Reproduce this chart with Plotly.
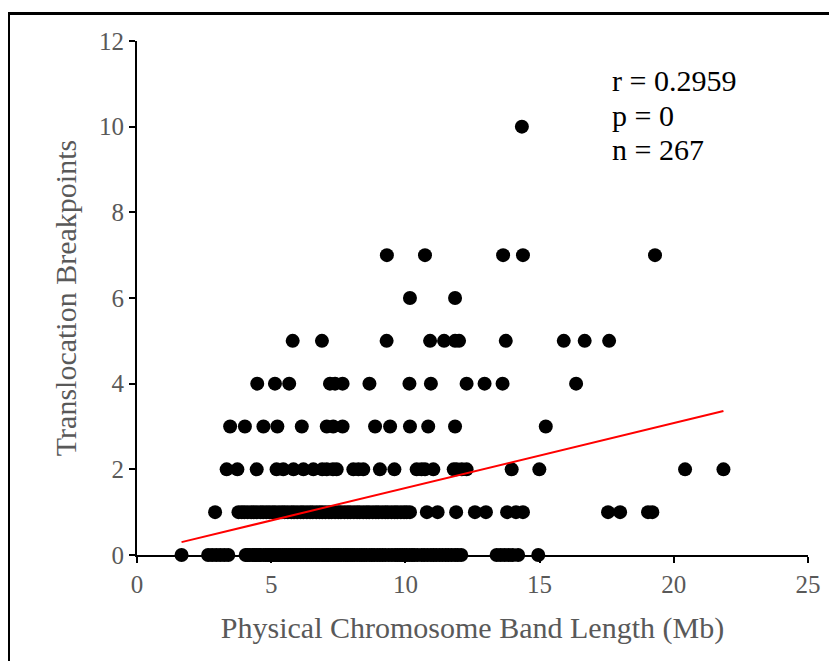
import plotly.graph_objects as go

# band length (Mb) of each band, grouped by number of translocation breakpoints
x_bp0 = [1.66, 2.65, 2.8, 2.95, 3.1, 3.25, 3.4,
         4.05, 4.12, 4.2, 4.31, 4.38, 4.46, 4.55, 4.6, 4.72, 4.8, 4.88, 4.95, 5.03, 5.1,
         5.18, 5.27, 5.33, 5.42, 5.5, 5.57, 5.66, 5.72, 5.8, 5.88, 5.95, 6.04, 6.1, 6.19,
         6.27, 6.35, 6.42, 6.5, 6.58, 6.66, 6.73, 6.8, 6.9, 6.97, 7.05, 7.12, 7.2, 7.3,
         7.36, 7.45, 7.52, 7.6, 7.7, 7.78, 7.85, 7.94, 8.02, 8.1, 8.2, 8.3, 8.38, 8.47,
         8.55, 8.66, 8.75, 8.84, 8.95, 9.05, 9.15, 9.25, 9.38, 9.5, 9.62, 9.7, 9.8, 9.88,
         9.97, 10.05, 10.15, 10.25, 10.33, 10.45, 10.6, 10.7, 10.82, 10.95, 11.05, 11.15,
         11.27, 11.38, 11.5, 11.6, 11.72, 11.85, 11.95, 12.08,
         13.4, 13.55, 13.7, 13.85, 14.0, 14.2, 14.95]
x_bp1 = [2.91, 3.78, 3.9, 4.0, 4.12, 4.25, 4.35, 4.47, 4.6, 4.7, 4.82, 4.93, 5.05, 5.15,
         5.28, 5.4, 5.5, 5.62, 5.75, 5.85, 5.97, 6.1, 6.2, 6.33, 6.45, 6.55, 6.68, 6.8,
         6.9, 7.02, 7.15, 7.25, 7.38, 7.5, 7.6, 7.73, 7.85, 7.95, 8.08, 8.2, 8.3, 8.43,
         8.55, 8.65, 8.78, 8.9, 9.0, 9.13, 9.25, 9.35, 9.48, 9.6, 9.7, 9.83, 9.95, 10.05,
         10.17, 10.8, 11.2, 11.89, 12.59, 13.0, 13.79, 14.12, 14.38,
         17.55, 18.0, 19.04, 19.2]
x_bp2 = [3.34, 3.74, 4.46, 5.2, 5.45, 5.83, 6.2, 6.57, 6.9, 7.07, 7.3, 7.44, 8.06, 8.25,
         8.43, 9.05, 9.59, 10.42, 10.6, 10.73, 11.04, 11.8, 11.91, 12.1, 12.28, 13.96,
         14.99, 20.42, 21.85]
x_bp3 = [3.47, 4.02, 4.71, 5.23, 6.14, 7.07, 7.31, 7.66, 8.87, 9.43, 10.17, 10.85, 11.85,
         15.23]
x_bp4 = [4.48, 5.14, 5.67, 7.19, 7.38, 7.66, 8.66, 10.15, 10.95, 12.28, 12.95, 13.62,
         16.36]
x_bp5 = [5.8, 6.89, 9.3, 10.92, 11.44, 11.85, 12.0, 13.74, 15.9, 16.68, 17.59]
x_bp6 = [10.17, 11.85]
x_bp7 = [9.31, 10.73, 13.64, 14.38, 19.3]
x_bp10 = [14.34]

groups = [(0, x_bp0), (1, x_bp1), (2, x_bp2), (3, x_bp3), (4, x_bp4),
          (5, x_bp5), (6, x_bp6), (7, x_bp7), (10, x_bp10)]

band_len = []
breakpoints = []
for bp, xs in groups:
    band_len += xs
    breakpoints += [bp] * len(xs)

# linear trend line
trend_x = [1.66, 21.85]
trend_y = [0.30, 3.36]

stats = ["r = 0.2959", "p = 0", "n = 267"]

fig = go.Figure()
fig.add_trace(go.Scatter(x=band_len, y=breakpoints, mode="markers",
                         marker=dict(color="black", size=14), cliponaxis=False))
fig.add_trace(go.Scatter(x=trend_x, y=trend_y, mode="lines",
                         line=dict(color="#ff0000", width=2)))

serif = "Liberation Serif"
gray = "#595959"
fig.update_layout(
    width=829, height=653,
    margin=dict(l=129, r=29, t=33, b=106),
    paper_bgcolor="white", plot_bgcolor="white",
    showlegend=False,
    font=dict(family=serif, color=gray, size=25),
)
fig.update_xaxes(range=[0, 25], tickvals=[0, 5, 10, 15, 20, 25],
                 showline=True, linecolor="black", linewidth=2,
                 ticks="outside", ticklen=6, tickwidth=2, tickcolor="black",
                 showgrid=False, zeroline=False,
                 title=dict(text="Physical Chromosome Band Length (Mb)",
                            font=dict(size=30, color=gray), standoff=20))
fig.update_yaxes(range=[0, 12], tickvals=[0, 2, 4, 6, 8, 10, 12],
                 showline=True, linecolor="black", linewidth=2,
                 ticks="outside", ticklen=6, tickwidth=2, tickcolor="black",
                 showgrid=False, zeroline=False,
                 title=dict(text="Translocation Breakpoints",
                            font=dict(size=30, color=gray), standoff=14))

for i, s in enumerate(stats):
    fig.add_annotation(text=s, xref="paper", yref="paper", x=0.705, y=0.924 - i * 0.068,
                       xanchor="left", yanchor="middle", showarrow=False,
                       font=dict(family=serif, size=30, color="black"))

# outer chart frame
fig.add_shape(type="rect", xref="paper", yref="paper",
              x0=-0.1915, y0=-0.35, x1=1.1, y1=1.0535,
              line=dict(color="black", width=3))

fig.write_html("out.html")
